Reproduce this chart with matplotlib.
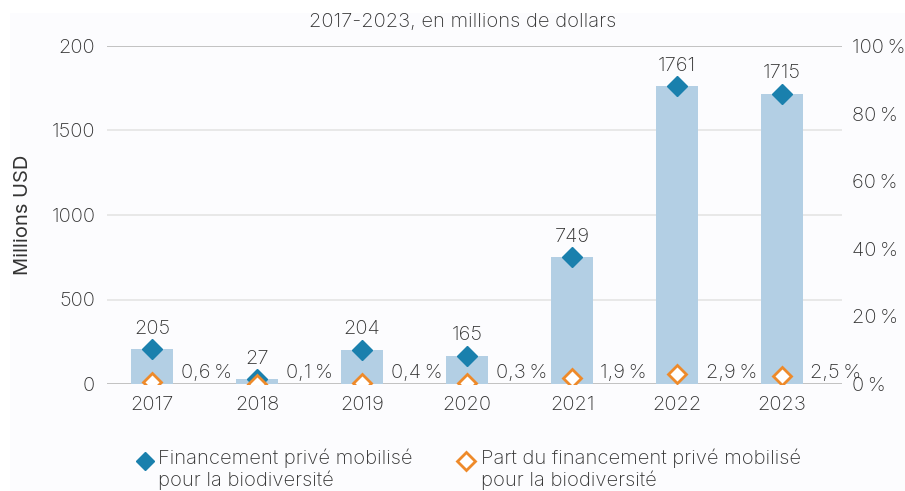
import matplotlib
matplotlib.use("Agg")
import matplotlib.pyplot as plt
from matplotlib.lines import Line2D
from matplotlib.patches import Rectangle

years = ["2017", "2018", "2019", "2020", "2021", "2022", "2023"]
values = [205, 27, 204, 165, 749, 1761, 1715]
shares = [0.6, 0.1, 0.4, 0.3, 1.9, 2.9, 2.5]
left_ticks = [0, 500, 1000, 1500, 2000]
left_tick_labels = ["0", "500", "1000", "1500", "200"]
right_ticks = [0, 20, 40, 60, 80, 100]
title = "2017-2023, en millions de dollars"
ylabel = "Millions USD"
legend_labels = ["Financement privé mobilisé\npour la biodiversité",
                 "Part du financement privé mobilisé\npour la biodiversité"]

plt.rcParams['font.family'] = ['Inter', 'DejaVu Sans']
plt.rcParams['font.weight'] = 'light'
TXT = '#333333'
BAR = '#b3cfe4'
DARK = '#1a80ad'
ORANGE = '#ee8a2a'
W, H = 905, 491
FS = 14.5

fig = plt.figure(figsize=(W / 100, H / 100), dpi=100)
fig.patch.set_facecolor('white')
fig.add_artist(Rectangle((10 / W, 0), 1, 1 - 13 / H, transform=fig.transFigure,
                         facecolor='#fcfcfe', edgecolor='none', zorder=-10))

ax = fig.add_axes([107 / W, 1 - 384 / H, (842 - 107) / W, (384 - 46) / H])
ax.set_facecolor('none')
x = list(range(len(years)))
ax.bar(x, values, width=0.4, color=BAR, zorder=2)
ax.plot(x, values, linestyle='none', marker='D', markersize=10, color=DARK, zorder=4)
ax.set_xlim(-0.43, 6.57)
ax.set_ylim(0, 2000)
ax.set_yticks(left_ticks)
ax.set_yticklabels(left_tick_labels)
ax.set_xticks(x)
ax.set_xticklabels(years)
ax.tick_params(axis='both', length=0, labelsize=FS, colors=TXT)
ax.tick_params(axis='y', pad=8.5)
ax.tick_params(axis='x', pad=9)
for s in ax.spines.values():
    s.set_visible(False)
for t in left_ticks:
    ax.axhline(t, color='#b8b8b8' if t in (0, 2000) else '#e4e4e4', lw=1.2, zorder=1)
ax.set_ylabel(ylabel, fontsize=FS, color=TXT)
ax.yaxis.set_label_coords(-0.102, 0.5)

for xi, v in zip(x, values):
    ax.annotate(str(v), (xi, v), xytext=(0, 8.5), textcoords='offset points',
                ha='center', va='bottom', fontsize=FS, color=TXT)
for xi, p in zip(x, shares):
    ax.text(xi + 0.27, 35, f"{p:.1f}".replace('.', ',') + "\u202f%",
            ha='left', va='baseline', fontsize=FS, color=TXT)

ax2 = ax.twinx()
ax2.set_ylim(0, 100)
ax2.set_yticks(right_ticks)
ax2.set_yticklabels([f"{t}\u202f%" for t in right_ticks])
ax2.tick_params(axis='y', length=0, labelsize=FS, colors=TXT, pad=7.5)
for s in ax2.spines.values():
    s.set_visible(False)
ax2.plot(x, shares, linestyle='none', marker='D', markersize=9,
         markerfacecolor='white', markeredgecolor=ORANGE, markeredgewidth=2, zorder=5)

fig.text(463 / W, 1 - 22 / H, title, ha='center', va='center', fontsize=FS, color=TXT)

for mx, tx, col, fc, lab in [(145, 158, DARK, DARK, legend_labels[0]),
                              (466, 481, ORANGE, 'white', legend_labels[1])]:
    fig.add_artist(Line2D([mx / W], [1 - 461 / H], transform=fig.transFigure,
                          marker='D', markersize=9, color=col, markerfacecolor=fc,
                          markeredgewidth=2 if fc == 'white' else 1, linestyle='none'))
    fig.text(tx / W, 1 - 449 / H, lab, ha='left', va='top', fontsize=FS,
             color=TXT, linespacing=1.12)

fig.savefig('out.png', dpi=100)
